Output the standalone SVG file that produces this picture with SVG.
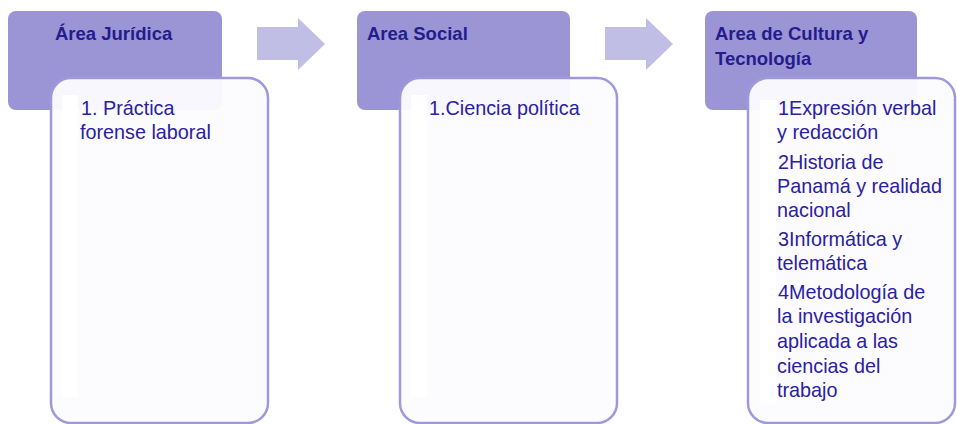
<svg xmlns="http://www.w3.org/2000/svg" width="957" height="424" viewBox="0 0 957 424">
  <style>
    .hdr { fill: #9b95d5; }
    .card { fill: #fcfcff; fill-opacity: 0.95; stroke: #9e99dc; stroke-width: 2.5; }
    .strip { fill: #ffffff; }
    .arrow { fill: #c1bee6; }
    .ht { font-family: "Liberation Sans", Arial, sans-serif; font-weight: bold; font-size: 18.5px; fill: #241c8e; }
    .bt { font-family: "Liberation Sans", Arial, sans-serif; font-size: 19.8px; fill: #2a20a2; }
  </style>
  <rect width="957" height="424" fill="#ffffff"/>

  <g id="connectors">
    <path class="arrow" d="M257,27 H298 V18 L325,44 L298,70 V60 H257 Z"/>
    <path class="arrow" d="M605,27 H646 V18 L673,44 L646,70 V60 H605 Z"/>
  </g>

  <g id="node-juridica">
    <rect class="hdr" x="8" y="11" width="214" height="99" rx="8"/>
    <text class="ht" x="55" y="40">Área Jurídica</text>
    <rect class="card" x="51" y="78" width="217" height="345" rx="20"/>
    <rect class="strip" x="62" y="95" width="16" height="302"/>
    <text class="bt" x="81" y="115">1. Práctica</text>
    <text class="bt" x="80" y="139">forense  laboral</text>
  </g>

  <g id="node-social">
    <rect class="hdr" x="357" y="11" width="213" height="99" rx="8"/>
    <text class="ht" x="367" y="40">Area Social</text>
    <rect class="card" x="400" y="78" width="217" height="345" rx="20"/>
    <rect class="strip" x="411" y="95" width="16" height="302"/>
    <text class="bt" x="429" y="115">1.Ciencia política</text>
  </g>

  <g id="node-cultura">
    <rect class="hdr" x="705" y="11" width="212" height="99" rx="8"/>
    <text class="ht" x="715" y="40">Area de Cultura y</text>
    <text class="ht" x="715" y="65">Tecnología</text>
    <rect class="card" x="748" y="78" width="207" height="345" rx="20"/>
    <rect class="strip" x="760" y="100" width="16" height="302"/>
    <text class="bt" x="778" y="115">1Expresión verbal</text>
    <text class="bt" x="777" y="139">y redacción</text>
    <text class="bt" x="778" y="169">2Historia de</text>
    <text class="bt" x="777" y="193">Panamá y realidad</text>
    <text class="bt" x="777" y="217">nacional</text>
    <text class="bt" x="778" y="246">3Informática y</text>
    <text class="bt" x="777" y="270">telemática</text>
    <text class="bt" x="778" y="299">4Metodología de</text>
    <text class="bt" x="777" y="323">la investigación</text>
    <text class="bt" x="777" y="348">aplicada a las</text>
    <text class="bt" x="777" y="373">ciencias del</text>
    <text class="bt" x="777" y="397">trabajo</text>
  </g>
</svg>
